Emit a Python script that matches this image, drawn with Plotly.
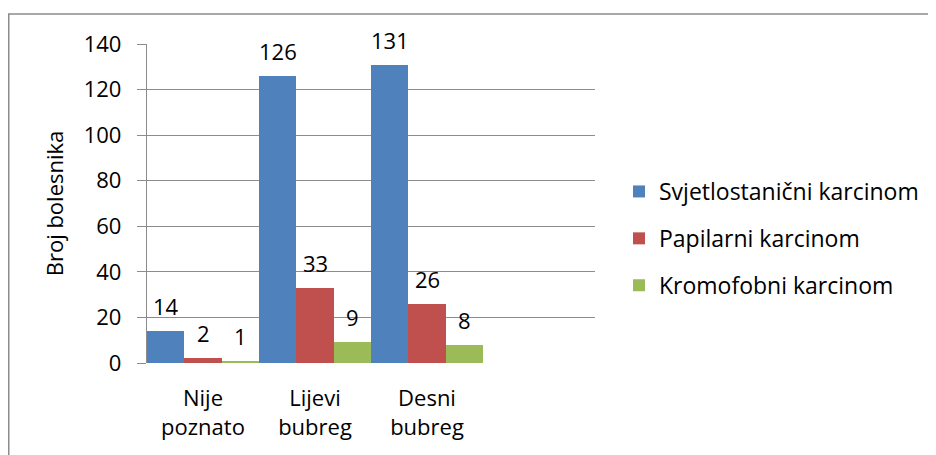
import plotly.graph_objects as go

categories = ["Nije<br>poznato", "Lijevi<br>bubreg", "Desni<br>bubreg"]
series_names = ["Svjetlostanični karcinom", "Papilarni karcinom", "Kromofobni karcinom"]
svjetlostanicni = [14, 126, 131]
papilarni = [2, 33, 26]
kromofobni = [1, 9, 8]
y_ticks = [0, 20, 40, 60, 80, 100, 120, 140]

COLORS = ['#4F81BD', '#C0504D', '#9BBB59']
FONT = 'Open Sans'
FS = 22
GRID = '#8C8C8C'

# the page body adds an 8px offset, so target pixel positions are shifted back by it
OFF = 8
L, R, T, B = 147 - OFF, 595 - OFF, 44 - OFF, 363 - OFF
W, H = 936, 455
PW, PH = R - L, B - T
BAR_PX = PW / 4 / 3

fig = go.Figure()
for i, (name, vals) in enumerate(zip(series_names, [svjetlostanicni, papilarni, kromofobni])):
    fig.add_trace(go.Bar(
        x=categories, y=vals, name=name,
        marker=dict(color=COLORS[i], line_width=0),
        legendgroup=str(i),
    ))
    for cat, v in zip(categories, vals):
        fig.add_annotation(
            x=cat, y=v, text=str(v), showarrow=False,
            xshift=(i - 1) * BAR_PX, yshift=25, yanchor='middle',
            font=dict(family=FONT, size=FS, color='black'),
        )

# outer chart frame
fig.add_shape(type='rect', xref='paper', yref='paper',
              x0=(0.75 - L) / PW, x1=(940 - OFF - L) / PW,
              y0=(B - 480) / PH, y1=(B - (14 - OFF)) / PH,
              line=dict(color='#8C8C8C', width=1.5), fillcolor='rgba(0,0,0,0)',
              layer='below')

fig.update_layout(
    width=W, height=H,
    margin=dict(l=L, r=W - R, t=T, b=H - B),
    paper_bgcolor='white', plot_bgcolor='white',
    barmode='group', bargap=0, bargroupgap=0,
    font=dict(family=FONT, size=FS, color='black'),
    showlegend=True,
    legend=dict(x=(619 - OFF - L) / PW, y=(B - (170 - OFF)) / PH, xanchor='left', yanchor='top',
                font=dict(size=23), tracegroupgap=14, bgcolor='rgba(0,0,0,0)',
                itemwidth=30),
)
fig.update_xaxes(
    range=[-0.5, 3.5], showgrid=False, showline=False, zeroline=False,
    ticks='', ticklabelstandoff=20,
    tickfont=dict(size=FS),
)
fig.update_yaxes(
    range=[0, 140], tickvals=y_ticks, showgrid=True, gridcolor=GRID, gridwidth=1.3,
    showline=True, linecolor=GRID, linewidth=1.3, zeroline=False,
    ticks='outside', ticklen=9, tickcolor=GRID, tickwidth=1.3,
    ticklabelstandoff=11, tickfont=dict(size=FS),
    title=dict(text='Broj bolesnika', font=dict(size=FS), standoff=14),
)

fig.write_html("out.html")
